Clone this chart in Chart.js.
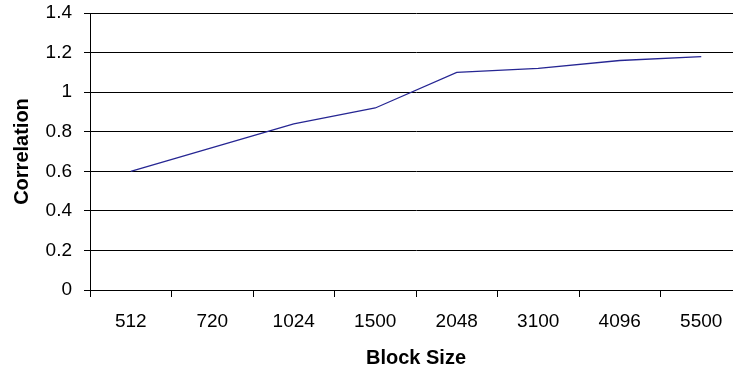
<!DOCTYPE html>
<html lang="en">
<head>
    <meta charset="UTF-8">
    <title>Correlation vs Block Size</title>
    <script src="https://cdn.jsdelivr.net/npm/chart.js"></script>
    <style>
        html, body {
            margin: 0;
            padding: 0;
            background: #ffffff;
            overflow: hidden;
        }
        .wrap {
            width: 745px;
            height: 371px;
        }
    </style>
</head>
<body>
<div class="wrap">
    <canvas id="corrChart" width="745" height="371"></canvas>
</div>

<script>
    const blockSizes = ["512", "720", "1024", "1500", "2048", "3100", "4096", "5500"];
    const correlation = [0.60, 0.72, 0.84, 0.92, 1.10, 1.12, 1.16, 1.18];

    Chart.defaults.font.family = "'Liberation Sans', Arial, sans-serif";
    Chart.defaults.color = "#000000";

    new Chart(document.getElementById("corrChart"), {
        type: "line",
        data: {
            labels: blockSizes,
            datasets: [{
                label: "Correlation",
                data: correlation,
                borderColor: "#262693",
                borderWidth: 1.3,
                pointRadius: 0,
                tension: 0,
                fill: false
            }]
        },
        options: {
            responsive: false,
            animation: false,
            layout: { padding: { top: 0, right: 3, left: 10, bottom: 1 } },
            plugins: {
                legend: { display: false },
                tooltip: { enabled: false }
            },
            scales: {
                x: {
                    offset: true,
                    afterFit: s => { s.height = 80; },
                    grid: {
                        offset: true,
                        drawOnChartArea: false,
                        drawTicks: true,
                        tickLength: 7,
                        color: "#000000"
                    },
                    border: { color: "#000000", width: 1 },
                    ticks: {
                        font: { size: 19 },
                        padding: 13,
                        maxRotation: 0
                    },
                    title: {
                        display: true,
                        text: "Block Size",
                        font: { size: 20, weight: "bold" },
                        padding: { top: 0, bottom: 0 }
                    }
                },
                y: {
                    min: 0,
                    max: 1.4,
                    afterFit: s => { s.width = 80; s.paddingTop = 13; },
                    ticks: {
                        stepSize: 0.2,
                        font: { size: 19 },
                        padding: 12,
                        callback: v => String(Number(v.toFixed(1)))
                    },
                    grid: {
                        color: "#000000",
                        tickLength: 6
                    },
                    border: { color: "#000000", width: 1 },
                    title: {
                        display: true,
                        text: "Correlation",
                        font: { size: 20, weight: "bold" },
                        padding: { top: 0, bottom: 0 }
                    }
                }
            }
        }
    });
</script>
</body>
</html>
